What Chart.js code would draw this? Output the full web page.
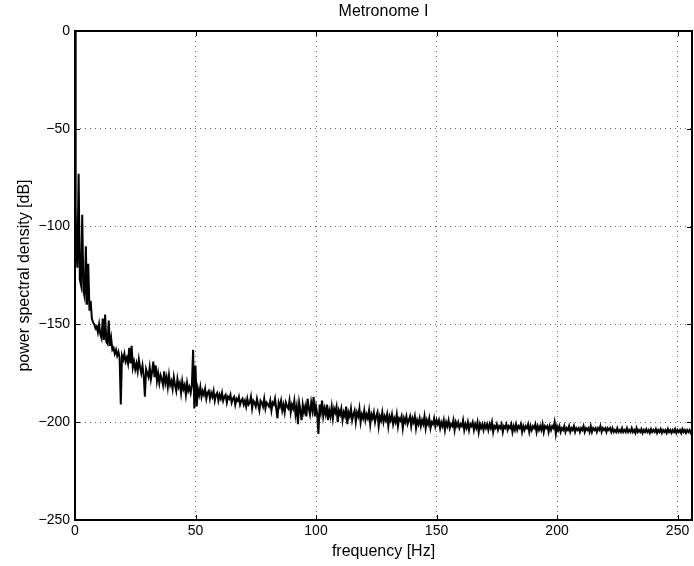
<!DOCTYPE html>
<html>
<head>
<meta charset="utf-8">
<title>Metronome I</title>
<script src="https://cdn.jsdelivr.net/npm/chart.js@4"></script>
<style>
    body { margin: 0; background: #fff; }
    canvas { display: block; }
</style>
</head>
<body>
<canvas id="psdChart" width="694" height="566"></canvas>
<script>
// ------------------- Data -------------------
const titleText = 'Metronome I';
const xLabel = 'frequency [Hz]';
const yLabel = 'power spectral density [dB]';
const xTickValues = [0, 50, 100, 150, 200, 250];
const yTickValues = [-250, -200, -150, -100, -50, 0];

// first bins right at DC (Hz / dB)
const dcFreq = [0, 0.2, 0.35, 0.45];
const dcPsd = [0, -50, -90, -104];

// rest of the spectrum, one value per 0.5 Hz bin, 0.5 Hz .. 256 Hz (10 Hz per row)
const binWidth = 0.5;
const psd = [
    -112, -121, -73, -127, -130, -94, -133, -136, -110, -140, -119, -143, -138, -147, -149, -150, -152, -151, -154, -150,
    -155, -157, -147, -158, -145, -159, -160, -148, -161, -157, -163, -162, -165, -163, -166, -164, -167, -191, -166, -168,
    -165, -169, -167, -170, -162, -170, -161, -172, -169, -173, -170, -174, -168, -172, -175, -171, -176, -187, -173, -175,
    -177, -172, -178, -174, -169, -177, -171, -179, -175, -180, -176, -178, -181, -174, -180, -177, -182, -176, -181, -179,
    -183, -177, -181, -184, -178, -182, -180, -185, -179, -183, -181, -186, -180, -184, -182, -185, -181, -163, -193, -171,
    -192, -183, -186, -182, -187, -184, -186, -183, -188, -185, -184, -188, -185, -187, -184, -189, -186, -185, -189, -186,
    -188, -185, -189, -187, -186, -190, -187, -188, -186, -190, -188, -187, -191, -188, -189, -187, -191, -189, -188, -191,
    -189, -192, -188, -191, -190, -187, -193, -189, -190, -192, -188, -191, -194, -189, -190, -192, -188, -193, -190, -191,
    -192, -189, -194, -190, -191, -188, -193, -198, -190, -192, -189, -194, -191, -195, -190, -192, -193, -189, -195, -191,
    -193, -189, -196, -192, -201, -190, -194, -199, -191, -195, -192, -197, -188, -193, -196, -190, -194, -187, -197, -192,
    -196, -206, -191, -195, -189, -197, -193, -196, -191, -199, -194, -197, -192, -198, -193, -195, -192, -200, -194, -196,
    -193, -199, -195, -197, -192, -201, -195, -197, -193, -199, -196, -194, -200, -195, -197, -193, -200, -196, -198, -194,
    -199, -196, -198, -194, -201, -196, -198, -195, -200, -197, -195, -202, -197, -199, -195, -200, -197, -199, -196, -202,
    -197, -199, -196, -201, -198, -200, -196, -202, -198, -199, -197, -203, -198, -200, -197, -201, -199, -197, -202, -198,
    -200, -197, -203, -199, -201, -198, -202, -199, -201, -197, -203, -199, -201, -198, -203, -200, -201, -198, -202, -199,
    -201, -199, -203, -200, -202, -199, -204, -200, -202, -199, -203, -201, -202, -199, -204, -200, -202, -200, -203, -201,
    -202, -199, -204, -201, -203, -200, -204, -201, -202, -200, -204, -201, -203, -200, -205, -201, -203, -201, -204, -201,
    -203, -201, -204, -201, -203, -200, -205, -202, -203, -201, -204, -202, -203, -201, -205, -202, -203, -201, -204, -202,
    -203, -201, -205, -202, -204, -201, -204, -202, -203, -201, -205, -202, -204, -202, -203, -201, -205, -202, -204, -202,
    -203, -201, -205, -202, -204, -202, -204, -201, -205, -202, -203, -202, -205, -202, -204, -202, -203, -200, -206, -202,
    -204, -202, -205, -203, -204, -202, -205, -203, -204, -202, -205, -203, -204, -202, -205, -203, -204, -203, -205, -203,
    -204, -202, -205, -203, -204, -203, -205, -202, -205, -203, -204, -203, -205, -203, -204, -202, -205, -203, -204, -203,
    -205, -203, -204, -203, -205, -203, -205, -204, -205, -203, -205, -204, -205, -203, -205, -204, -205, -203, -205, -204,
    -205, -203, -205, -204, -205.5, -203, -205, -204, -205, -203.5, -205.5, -204, -205, -203.5, -205, -204, -205.5, -203.5, -205, -204,
    -205, -203.5, -205.5, -204, -205, -203.5, -205.5, -204, -205, -204, -205.5, -203.5, -205, -204, -205.5, -204, -205, -203.5, -205.5, -204,
    -205, -204, -205.5, -203.5, -205, -204, -205.5, -204, -205, -204, -205.5, -204.5
];

const fontFamily = '"Liberation Sans", Arial, Helvetica, sans-serif';

// ------------------- Axes box, inward ticks, title over the axes (MATLAB style) -------------------
const axesBoxPlugin = {
    id: 'axesBox',
    afterDraw(chart) {
        const { ctx, chartArea: { left, right, top, bottom }, scales: { x, y } } = chart;
        const len = 5;
        ctx.save();
        ctx.strokeStyle = '#000';
        ctx.lineWidth = 2;
        ctx.strokeRect(left, top, right - left, bottom - top);
        ctx.lineWidth = 1;
        ctx.beginPath();
        xTickValues.forEach(v => {
            const px = Math.round(x.getPixelForValue(v)) + 0.5;
            ctx.moveTo(px, bottom); ctx.lineTo(px, bottom - len);
            ctx.moveTo(px, top); ctx.lineTo(px, top + len);
        });
        yTickValues.forEach(v => {
            const py = Math.round(y.getPixelForValue(v)) + 0.5;
            ctx.moveTo(left, py); ctx.lineTo(left + len, py);
            ctx.moveTo(right, py); ctx.lineTo(right - len, py);
        });
        ctx.stroke();

        ctx.fillStyle = '#000';
        ctx.font = '16px ' + fontFamily;
        ctx.textAlign = 'center';
        ctx.textBaseline = 'middle';
        ctx.fillText(titleText, (left + right) / 2, 12);
        ctx.restore();
    }
};

// ------------------- Chart -------------------
function initPsdChart() {
    const points = dcFreq.map((f, i) => ({ x: f, y: dcPsd[i] }))
        .concat(psd.map((v, i) => ({ x: (i + 1) * binWidth, y: v })));

    const minusFmt = v => (v < 0 ? '\u2212' + Math.abs(v) : String(v));
    const gridStyle = { color: 'rgba(0,0,0,0.6)', lineWidth: 1, drawTicks: false };

    new Chart(document.getElementById('psdChart').getContext('2d'), {
        type: 'line',
        data: {
            datasets: [{
                data: points,
                borderColor: '#000',
                borderWidth: 2,
                pointRadius: 0,
                tension: 0,
                fill: false
            }]
        },
        options: {
            responsive: false,
            animation: false,
            layout: { padding: { left: 0, right: 2, top: 31, bottom: 0 } },
            plugins: {
                legend: { display: false },
                tooltip: { enabled: false },
                title: { display: false }
            },
            scales: {
                x: {
                    type: 'linear',
                    min: 0,
                    max: 256,
                    afterBuildTicks: s => { s.ticks = xTickValues.map(v => ({ value: v })); },
                    afterFit: s => { s.height = 46; },
                    grid: gridStyle,
                    border: { display: false, dash: [1, 4] },
                    ticks: {
                        color: '#000',
                        padding: 3,
                        maxRotation: 0,
                        font: { family: fontFamily, size: 14 },
                        callback: minusFmt
                    },
                    title: {
                        display: true,
                        text: xLabel,
                        color: '#000',
                        font: { family: fontFamily, size: 16 },
                        padding: { top: 0, bottom: 5 }
                    }
                },
                y: {
                    type: 'linear',
                    min: -250,
                    max: 0,
                    afterBuildTicks: s => { s.ticks = yTickValues.map(v => ({ value: v })); },
                    afterFit: s => { s.width = 75; },
                    grid: gridStyle,
                    border: { display: false, dash: [1, 4] },
                    ticks: {
                        color: '#000',
                        padding: 5,
                        font: { family: fontFamily, size: 14 },
                        callback: minusFmt
                    },
                    title: {
                        display: true,
                        text: yLabel,
                        color: '#000',
                        font: { family: fontFamily, size: 16 },
                        padding: { top: 15, bottom: 0 }
                    }
                }
            }
        },
        plugins: [axesBoxPlugin]
    });
}

initPsdChart();
</script>
</body>
</html>
